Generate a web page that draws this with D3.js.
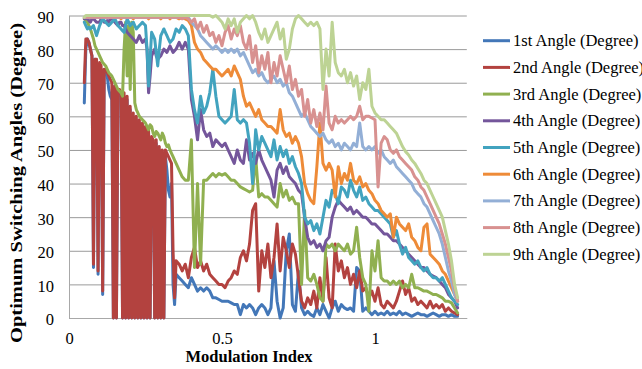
<!DOCTYPE html>
<html>
<head>
<meta charset="utf-8">
<script src="https://cdn.jsdelivr.net/npm/d3@7"></script>
<style>
  html, body { margin: 0; padding: 0; background: #fff; overflow: hidden; }
  svg { display: block; font-family: "Liberation Serif", "Times New Roman", serif; }
  .grid line { stroke: #9a9a9a; stroke-width: 1; }
  .grid path { display: none; }
  .axis path { stroke: #a8a8a8; stroke-width: 1; fill: none; }
  .axis line { display: none; }
  .axis text { fill: #000; font-size: 16.5px; font-family: "Liberation Serif", "Times New Roman", serif; }
  .series { fill: none; stroke-width: 3; stroke-linejoin: round; stroke-linecap: round; }
  .legend text { font-size: 16.5px; fill: #000; font-family: "Liberation Serif", "Times New Roman", serif; }
  .title { font-size: 16.5px; font-weight: bold; fill: #000; font-family: "Liberation Serif", "Times New Roman", serif; }
</style>
</head>
<body>
<svg id="chart" width="642" height="369"></svg>
<script>
// modulation index samples (finer step below 0.35)
const modIndex = [
  0.050, 0.055, 0.060, 0.065, 0.070, 0.075, 0.080, 0.085, 0.090, 0.095,
  0.100, 0.105, 0.110, 0.115, 0.120, 0.125, 0.130, 0.135, 0.140, 0.145,
  0.150, 0.155, 0.160, 0.165, 0.170, 0.175, 0.180, 0.185, 0.190, 0.195,
  0.200, 0.205, 0.210, 0.215, 0.220, 0.225, 0.230, 0.235, 0.240, 0.245,
  0.250, 0.255, 0.260, 0.265, 0.270, 0.275, 0.280, 0.285, 0.290, 0.295,
  0.300, 0.305, 0.310, 0.315, 0.320, 0.325, 0.330, 0.335, 0.340, 0.345,
  0.350,
  0.36, 0.37, 0.38, 0.39, 0.40, 0.41, 0.42, 0.43, 0.44,
  0.45, 0.46, 0.47, 0.48, 0.49, 0.50, 0.51, 0.52, 0.53, 0.54,
  0.55, 0.56, 0.57, 0.58, 0.59, 0.60, 0.61, 0.62, 0.63, 0.64,
  0.65, 0.66, 0.67, 0.68, 0.69, 0.70, 0.71, 0.72, 0.73, 0.74,
  0.75, 0.76, 0.77, 0.78, 0.79, 0.80, 0.81, 0.82, 0.83, 0.84,
  0.85, 0.86, 0.87, 0.88, 0.89, 0.90, 0.91, 0.92, 0.93, 0.94,
  0.95, 0.96, 0.97, 0.98, 0.99, 1.00, 1.01, 1.02, 1.03, 1.04,
  1.05, 1.06, 1.07, 1.08, 1.09, 1.10, 1.11, 1.12, 1.13, 1.14,
  1.15, 1.16, 1.17, 1.18, 1.19, 1.20, 1.21, 1.22, 1.23, 1.24,
  1.25, 1.26, 1.27
];

const angle1 = [
  64, 80, 83, 82, 80, 78, 15, 77, 76, 13,
  75, 74, 7, 73, 74, 72, 68, 66, 65, 0,
  69, 0, 67, 67, 66, 0, 66, 0, 65, 0,
  62, 0, 60, 0, 59, 0, 58, 0, 57, 0,
  56, 0, 55, 0, 53, 52, 0, 52, 0, 50,
  0, 49, 0, 48, 44, 38, 36, 40, 10, 4,
  13,
  12, 11, 10, 9, 12, 10, 8, 9, 8,
  9, 8, 6, 6, 5.5, 5, 5, 5, 4.5, 4,
  4, 1, 4, 3, 4, 3, 1, 3, 4, 3,
  1, 3, 17, 5, 0, 3, 20, 25, 4, 2,
  14, 3, 1, 2, 1, 0.5, 3, 1, 4, 2,
  0, 3, 5, 2, 4, 3, 2.5, 3, 2, 15,
  14, 2, 3, 2, 1, 2, 1, 1.5, 1, 2,
  1, 1.5, 1, 2, 1, 1.5, 1, 0.5, 1, 1.5,
  1, 1, 0.5, 1, 1.5, 1, 0.5, 1, 1, 0.5,
  1, 0.5, 0.5
];

const angle2 = [
  70, 83, 83, 82, 80, 78, 16, 77, 77, 14,
  76, 75, 8, 74, 74, 73, 72, 71, 70, 0,
  69, 0, 68, 68, 67, 0, 67, 0, 66, 0,
  63, 0, 61, 0, 60, 0, 59, 0, 58, 0,
  57, 0, 56, 0, 54, 53, 0, 53, 0, 51,
  0, 50, 0, 50, 49, 48, 47, 46, 20, 6,
  17,
  16, 14, 16, 12, 18, 21, 15, 17, 14,
  16, 13, 12, 11, 10, 10, 9, 11, 12, 14,
  13, 18, 20, 17, 22, 32, 34, 8, 20, 15,
  22, 12, 18, 28, 14, 24, 20, 15, 22, 19,
  12, 5, 3, 6, 4, 8, 3, 12, 5, 18,
  6, 3, 22, 14, 17, 12, 15, 10, 13, 9,
  14, 8, 9, 6, 8, 5, 9, 4, 3, 5,
  4, 3, 5, 8, 11, 7, 9, 5, 6, 4,
  5, 4, 3, 5, 3, 4, 3, 4, 2, 3,
  2, 1.5, 1
];

const angle3 = [
  89, 88.5, 88, 87, 86, 84.5, 83, 81, 80, 79,
  78, 77, 76, 75.5, 75, 74, 73, 72.5, 72, 71,
  70, 69, 68, 67.5, 67, 66, 80, 88, 72, 87,
  68, 88, 85, 64, 62, 61, 60, 59.5, 59, 58.5,
  58, 57, 56, 57.5, 57, 55, 54, 55.5, 55, 54,
  53, 55, 54, 52, 51, 51.5, 50, 49, 48, 47,
  46,
  44, 42, 41, 41, 53, 15, 40, 16, 41,
  41, 42, 43, 42, 43, 42.5, 43, 42, 41, 41,
  40, 39, 38.5, 38, 37.5, 38, 48, 36, 37, 36,
  36, 35, 34, 33, 40, 36, 38, 35, 36, 34,
  34, 10, 32, 12, 11, 13, 10, 6, 5, 22,
  21, 22, 20, 22, 21, 20, 22, 19, 20, 27,
  18, 12, 10, 2, 20, 14, 23, 12, 11, 11,
  10, 11, 10, 11, 9, 10, 9, 13, 9, 9,
  8.5, 8, 8, 7.5, 7, 7, 6.5, 6, 5, 5,
  4.5, 3, 1.5
];

const angle4 = [
  89, 89, 89, 88.5, 88, 89, 89, 88.5, 88, 88,
  88, 89, 89, 88, 88, 88.5, 88, 89, 89, 88.5,
  88, 87.5, 87, 88, 88, 87, 87, 86, 85, 84.5,
  84, 83.5, 83, 82.5, 82, 83, 84, 83, 82, 82.5,
  83, 80, 67, 72, 78, 79, 80, 78, 77, 77.5,
  78, 79, 80, 79.5, 79, 80, 81, 80, 79, 79.5,
  80,
  82, 80, 82, 80, 65, 60, 53, 62, 56,
  54, 55, 51, 53, 52, 51, 52, 50, 48, 46,
  50, 47, 46, 53, 47, 49, 46, 50, 47, 45,
  43, 41, 36, 44, 46, 43, 45, 42, 41, 40,
  38, 37, 30, 24, 22, 23, 21, 22, 20, 23,
  24, 30, 33, 35, 34, 33, 32, 33, 31, 32,
  31, 30, 30, 29, 28, 28, 27, 26, 25, 25,
  24, 23, 23, 22, 21, 20, 19, 18, 17, 16,
  15, 15, 14, 13, 12.5, 12, 11, 10, 9, 7,
  6, 5, 3
];

const angle5 = [
  88, 87, 86, 86.5, 86, 86.5, 87, 85.5, 84, 85.5,
  87, 88, 89, 88.5, 88, 87.5, 87, 87.5, 88, 88.5,
  89, 88, 87, 86.5, 86, 85.5, 85, 87, 89, 88,
  87, 87.5, 88, 87, 86, 86.5, 87, 87.5, 88, 87.5,
  87, 80, 69, 77, 85, 84, 83, 79, 75, 80,
  84, 85, 86, 85, 84, 83, 82, 82.5, 83, 84.5,
  86,
  85, 87, 86, 84, 68, 62, 58, 66, 61,
  63, 67, 74, 66, 60, 59, 58, 59, 60, 68,
  59, 58, 59, 58, 52, 40, 56, 50, 54, 52,
  50, 48, 53, 47, 51, 48, 50, 46, 48, 45,
  43, 40, 30, 28, 29, 26, 28, 25, 30, 35,
  33, 38, 37, 34, 39, 38, 36, 41, 38, 36,
  39, 35, 36, 34, 33, 32, 32, 31, 30, 29,
  28, 24, 26, 22, 19, 21, 18, 17, 16, 17,
  15, 14, 15, 13, 12, 12, 11, 12, 10, 8,
  6, 5, 4
];

const angle6 = [
  89.5, 89.5, 89.5, 89.5, 89.5, 89.5, 89.5, 89.5, 89.5, 89.5,
  89.5, 89.5, 89.5, 89.5, 89.5, 89.5, 89.5, 89.5, 89.5, 89.5,
  89.5, 89.5, 89.5, 89.5, 89, 89.5, 89.5, 89.5, 89.5, 89.5,
  89.5, 89.5, 89, 89.5, 89.5, 89.5, 89.5, 89.5, 89.5, 89.5,
  89.5, 89.5, 89, 89.5, 89.5, 89.5, 89.5, 89.5, 89.5, 89.5,
  89, 89.5, 89.5, 89.5, 89.5, 89.5, 89, 89.5, 89.5, 89.5,
  89.5,
  89, 89.5, 89, 88.5, 87, 82, 80, 79, 77,
  76, 75, 74, 74, 73, 72, 73, 74, 72, 75,
  73, 71, 66, 63, 64, 62, 60, 62, 59, 58,
  57, 57, 56, 55, 62, 56, 54, 55, 52, 54,
  52, 48, 40, 37, 35, 34, 45, 58, 46, 44,
  46, 44, 36, 45, 40, 43, 41, 46, 41, 40,
  42, 39, 40, 38, 37, 35, 34, 32, 31, 30,
  31, 24, 30, 28, 27, 26, 28, 24, 23, 21,
  20, 27, 28, 19, 18, 17, 16, 14, 13, 11,
  9, 7, 5
];

const angle7 = [
  89.5, 89.5, 89.5, 89.5, 89.5, 89.5, 89.5, 89.5, 89.5, 89.5,
  89.5, 89.5, 89.5, 89.5, 89.5, 89.5, 89.5, 89.5, 89.5, 89.5,
  89.5, 89.5, 89.5, 89.5, 89.5, 89.5, 89.5, 89.5, 89.5, 89.5,
  89.5, 89.5, 89.5, 89.5, 89.5, 89.5, 89.5, 89.5, 89.5, 89.5,
  89.5, 89.5, 89.5, 89.5, 89.5, 89.5, 89.5, 89.5, 89.5, 89.5,
  89.5, 89.5, 89.5, 89.5, 89.5, 89.5, 89.5, 89.5, 89.5, 89.5,
  89.5,
  89.5, 89.5, 89.5, 89.5, 88, 87, 86, 84, 83,
  82, 81, 80, 81, 80, 79, 80, 79, 80, 79,
  80, 78, 79, 77, 75, 73, 74, 72, 73, 71,
  70, 71, 72, 70, 71, 69, 70, 67, 66, 64,
  62, 60, 61, 59, 57, 56, 55, 54, 55, 53,
  52, 53, 51, 52, 50, 52, 51, 50, 52, 51,
  58, 51, 50, 51, 50, 51, 49, 50, 48, 47,
  46, 47, 45, 44, 43, 42, 41, 40, 38, 37,
  36, 34, 33, 31, 29, 27, 25, 22, 18, 14,
  11, 7, 5
];

const angle8 = [
  89.5, 89.5, 89.5, 89.5, 89.5, 89.5, 89.5, 89.5, 89.5, 89.5,
  89.5, 89.5, 89.5, 89.5, 89.5, 89.5, 89.5, 89.5, 89.5, 89.5,
  89.5, 89.5, 89.5, 89.5, 89.5, 89.5, 89.5, 89.5, 89.5, 89.5,
  89.5, 89.5, 89.5, 89.5, 89.5, 89.5, 89.5, 89.5, 89.5, 89.5,
  89.5, 89.5, 89.5, 89.5, 89.5, 89.5, 89.5, 89.5, 89.5, 89.5,
  89.5, 89.5, 89.5, 89.5, 89.5, 89.5, 89.5, 89.5, 89.5, 89.5,
  89.5,
  89.5, 89, 89.5, 89, 88, 89, 86, 88, 85,
  87, 84, 85, 82, 84, 81, 85, 87, 83, 86,
  84, 87, 82, 80, 84, 76, 81, 73, 78, 74,
  79, 70, 76, 72, 78, 74, 70, 75, 68, 71,
  66, 68, 60, 65, 58, 62, 57, 61, 56, 69,
  58, 56, 60, 58, 59, 58, 59, 60, 59, 60,
  63, 59, 60, 60, 59.5, 59, 39, 52, 54, 53,
  50, 49, 50, 48, 47, 46, 45, 44, 42, 41,
  39, 38, 36, 34, 32, 30, 28, 25, 22, 18,
  14, 9, 5
];

const angle9 = [
  89.5, 90, 90, 90, 90, 90, 90, 90, 90, 90,
  90, 90, 90, 90, 90, 90, 90, 90, 90, 90,
  90, 90, 90, 90, 90, 90, 90, 90, 90, 90,
  90, 90, 90, 90, 90, 90, 90, 90, 90, 90,
  90, 90, 90, 90, 90, 90, 90, 90, 90, 90,
  90, 90, 90, 90, 90, 90, 90, 90, 90, 90,
  90,
  90, 90, 90, 90, 90, 90, 90, 90, 90,
  90, 90, 89.5, 90, 89, 88, 86, 89, 87, 89,
  85, 88, 89, 90, 89, 90, 88, 85, 83, 86,
  82, 84, 86, 88, 83, 86, 77, 80, 86, 89,
  90, 89, 88, 87, 88, 87, 88, 86, 68, 80,
  72, 88, 76, 73, 72, 74, 70, 73, 69, 72,
  65, 70, 68, 74, 63, 61, 60, 59, 59, 58,
  57, 56, 55, 53, 51, 49.5, 48.5, 47, 46, 44.5,
  43, 41, 40, 38, 36, 34, 32, 30, 26, 22,
  17, 10, 6
];

const seriesNames = [
  '1st Angle (Degree)', '2nd Angle (Degree)', '3rd Angle (Degree)',
  '4th Angle (Degree)', '5th Angle (Degree)', '6th Angle (Degree)',
  '7th Angle (Degree)', '8th Angle (Degree)', '9th Angle (Degree)'
];
const seriesValues = [angle1, angle2, angle3, angle4, angle5, angle6, angle7, angle8, angle9];
const seriesColors = [
  '#4377b8', '#b3423f', '#90b050', '#74569b', '#42a3bf',
  '#ee8b38', '#93afd6', '#d89190', '#bdd394'
];

const xTickValues = [0, 0.5, 1];
const xTickLabels = ['0', '0.5', '1'];
const yTickValues = [0, 10, 20, 30, 40, 50, 60, 70, 80, 90];

// layout
const plot = { left: 69, right: 466.8, top: 15.5, bottom: 318 };

const svg = d3.select('#chart');

const x = d3.scaleLinear().domain([0, 1.3]).range([plot.left, plot.right]);
const y = d3.scaleLinear().domain([0, 90]).range([plot.bottom, plot.top]);

// horizontal gridlines
svg.append('g')
  .attr('class', 'grid')
  .attr('transform', `translate(${plot.left},0)`)
  .call(d3.axisLeft(y).tickValues(yTickValues).tickSize(-(plot.right - plot.left)).tickFormat(() => ''));

// axes
svg.append('g')
  .attr('class', 'axis y-axis')
  .attr('transform', `translate(${plot.left},0)`)
  .call(d3.axisLeft(y).tickValues(yTickValues).tickSize(0).tickPadding(15).tickSizeOuter(0))
  .selectAll('text').attr('dy', '0.42em');

svg.append('g')
  .attr('class', 'axis x-axis')
  .attr('transform', `translate(0,${plot.bottom})`)
  .call(d3.axisBottom(x).tickValues(xTickValues).tickSize(0).tickPadding(14).tickSizeOuter(0)
    .tickFormat((d, i) => xTickLabels[i]));

// lines, first series at the bottom
const line = d3.line()
  .x((d, i) => x(modIndex[i]))
  .y(d => y(d));

svg.append('g')
  .selectAll('path')
  .data(seriesValues)
  .enter()
  .append('path')
  .attr('class', 'series')
  .attr('stroke', (d, i) => seriesColors[i])
  .attr('d', line);

// axis titles
svg.append('text')
  .attr('class', 'title')
  .attr('x', 249)
  .attr('y', 362)
  .attr('text-anchor', 'middle')
  .text('Modulation Index');

svg.append('text')
  .attr('class', 'title')
  .attr('transform', 'translate(22,183) rotate(-90)')
  .attr('text-anchor', 'middle')
  .attr('textLength', 320)
  .attr('lengthAdjust', 'spacingAndGlyphs')
  .text('Optimum Switching Angles (Degree)');

// legend
const legend = svg.append('g').attr('class', 'legend');
const rowY = d3.scalePoint().domain(d3.range(seriesNames.length)).range([40.7, 254.3]);

const rows = legend.selectAll('g')
  .data(seriesNames)
  .enter()
  .append('g')
  .attr('transform', (d, i) => `translate(483,${rowY(i)})`);

rows.append('line')
  .attr('x1', 0).attr('x2', 27)
  .attr('stroke', (d, i) => seriesColors[i])
  .attr('stroke-width', 3);

rows.append('text')
  .attr('x', 30)
  .attr('dy', '0.33em')
  .text(d => d);
</script>
</body>
</html>
